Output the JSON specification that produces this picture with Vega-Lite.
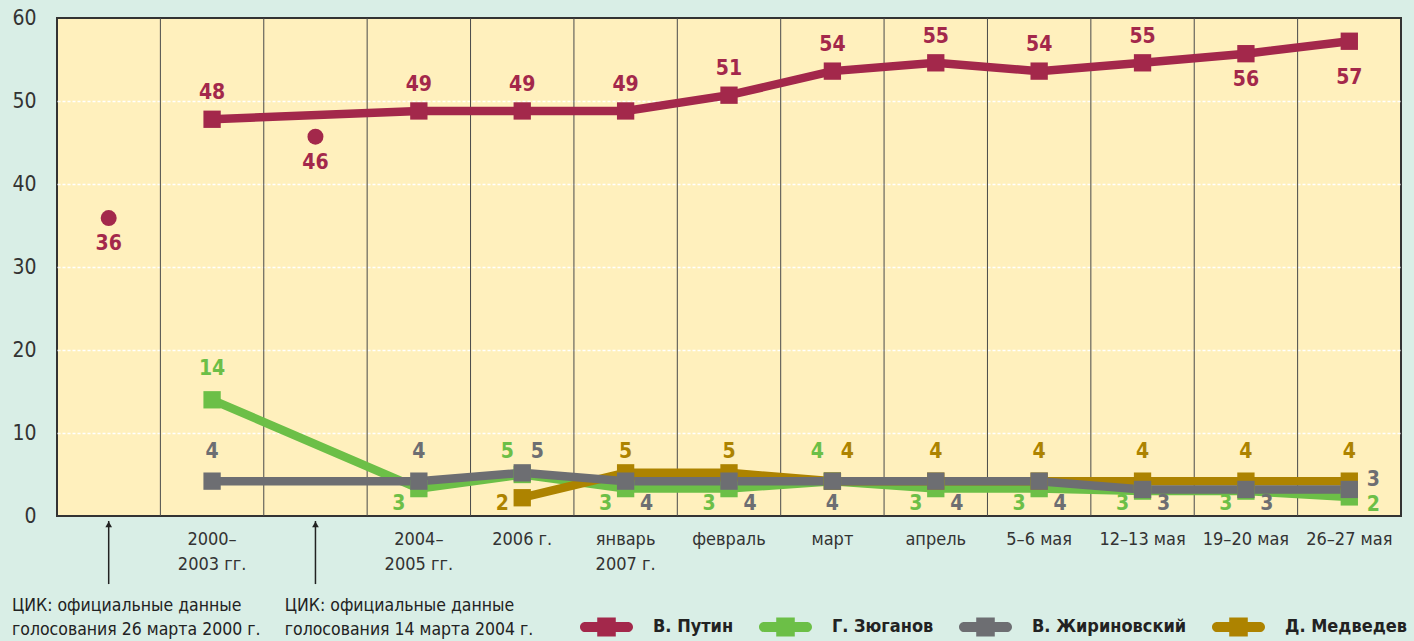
{
  "$schema": "https://vega.github.io/schema/vega-lite/v6.json",
  "width": 1344,
  "height": 498,
  "autosize": {"type": "none"},
  "padding": {"left": 57, "top": 18, "right": 13, "bottom": 125},
  "background": "#d9eee6",
  "config": {
    "view": {"fill": "#fff0bd", "stroke": "#333333", "strokeWidth": 2},
    "font": "Liberation Sans Narrow, DejaVu Sans Condensed, sans-serif",
    "axisX": {"domain": false, "ticks": false, "grid": false, "labelAngle": 0, "labelFontSize": 18, "labelPadding": 14, "labelLineHeight": 25, "labelColor": "#333333", "labelOverlap": false, "title": null},
    "axisY": {"domain": false, "ticks": false, "labelFontSize": 21, "labelColor": "#333333", "labelPadding": 21, "gridColor": "#ffffff", "gridDash": [3, 2], "gridWidth": 1.5, "title": null}
  },
  "datasets": {
    "lines": [
      {"s": "Г. Зюганов", "p": "2000–|2003 гг.", "v": 14.0},
      {"s": "Г. Зюганов", "p": "2004–|2005 гг.", "v": 3.3},
      {"s": "Г. Зюганов", "p": "2006 г.", "v": 5.0},
      {"s": "Г. Зюганов", "p": "январь|2007 г.", "v": 3.3},
      {"s": "Г. Зюганов", "p": "февраль", "v": 3.3},
      {"s": "Г. Зюганов", "p": "март", "v": 4.2},
      {"s": "Г. Зюганов", "p": "апрель", "v": 3.3},
      {"s": "Г. Зюганов", "p": "5–6 мая", "v": 3.3},
      {"s": "Г. Зюганов", "p": "12–13 мая", "v": 3.0},
      {"s": "Г. Зюганов", "p": "19–20 мая", "v": 3.0},
      {"s": "Г. Зюганов", "p": "26–27 мая", "v": 2.3},
      {"s": "Д. Медведев", "p": "2006 г.", "v": 2.2},
      {"s": "Д. Медведев", "p": "январь|2007 г.", "v": 5.2},
      {"s": "Д. Медведев", "p": "февраль", "v": 5.2},
      {"s": "Д. Медведев", "p": "март", "v": 4.2},
      {"s": "Д. Медведев", "p": "апрель", "v": 4.2},
      {"s": "Д. Медведев", "p": "5–6 мая", "v": 4.2},
      {"s": "Д. Медведев", "p": "12–13 мая", "v": 4.2},
      {"s": "Д. Медведев", "p": "19–20 мая", "v": 4.2},
      {"s": "Д. Медведев", "p": "26–27 мая", "v": 4.2},
      {"s": "В. Жириновский", "p": "2000–|2003 гг.", "v": 4.2},
      {"s": "В. Жириновский", "p": "2004–|2005 гг.", "v": 4.2},
      {"s": "В. Жириновский", "p": "2006 г.", "v": 5.2},
      {"s": "В. Жириновский", "p": "январь|2007 г.", "v": 4.2},
      {"s": "В. Жириновский", "p": "февраль", "v": 4.2},
      {"s": "В. Жириновский", "p": "март", "v": 4.2},
      {"s": "В. Жириновский", "p": "апрель", "v": 4.2},
      {"s": "В. Жириновский", "p": "5–6 мая", "v": 4.2},
      {"s": "В. Жириновский", "p": "12–13 мая", "v": 3.2},
      {"s": "В. Жириновский", "p": "19–20 мая", "v": 3.2},
      {"s": "В. Жириновский", "p": "26–27 мая", "v": 3.2},
      {"s": "В. Путин", "p": "2000–|2003 гг.", "v": 47.8},
      {"s": "В. Путин", "p": "2004–|2005 гг.", "v": 48.8},
      {"s": "В. Путин", "p": "2006 г.", "v": 48.8},
      {"s": "В. Путин", "p": "январь|2007 г.", "v": 48.8},
      {"s": "В. Путин", "p": "февраль", "v": 50.7},
      {"s": "В. Путин", "p": "март", "v": 53.6},
      {"s": "В. Путин", "p": "апрель", "v": 54.6},
      {"s": "В. Путин", "p": "5–6 мая", "v": 53.6},
      {"s": "В. Путин", "p": "12–13 мая", "v": 54.6},
      {"s": "В. Путин", "p": "19–20 мая", "v": 55.7},
      {"s": "В. Путин", "p": "26–27 мая", "v": 57.2}
    ],
    "dots": [
      {"s": "В. Путин", "p": "ЦИК 2000", "v": 35.9},
      {"s": "В. Путин", "p": "ЦИК 2004", "v": 45.7}
    ],
    "labels": [
      {"s": "В. Путин", "p": "ЦИК 2000", "v": 35.9, "t": "36", "pos": "B"},
      {"s": "В. Путин", "p": "2000–|2003 гг.", "v": 47.8, "t": "48", "pos": "A"},
      {"s": "В. Путин", "p": "ЦИК 2004", "v": 45.7, "t": "46", "pos": "B"},
      {"s": "В. Путин", "p": "2004–|2005 гг.", "v": 48.8, "t": "49", "pos": "A"},
      {"s": "В. Путин", "p": "2006 г.", "v": 48.8, "t": "49", "pos": "A"},
      {"s": "В. Путин", "p": "январь|2007 г.", "v": 48.8, "t": "49", "pos": "A"},
      {"s": "В. Путин", "p": "февраль", "v": 50.7, "t": "51", "pos": "A"},
      {"s": "В. Путин", "p": "март", "v": 53.6, "t": "54", "pos": "A"},
      {"s": "В. Путин", "p": "апрель", "v": 54.6, "t": "55", "pos": "A"},
      {"s": "В. Путин", "p": "5–6 мая", "v": 53.6, "t": "54", "pos": "A"},
      {"s": "В. Путин", "p": "12–13 мая", "v": 54.6, "t": "55", "pos": "A"},
      {"s": "В. Путин", "p": "19–20 мая", "v": 55.7, "t": "56", "pos": "B"},
      {"s": "В. Путин", "p": "26–27 мая", "v": 57.2, "t": "57", "pos": "B2"},
      {"s": "Г. Зюганов", "p": "2000–|2003 гг.", "v": 14.0, "t": "14", "pos": "A2"},
      {"s": "В. Жириновский", "p": "2000–|2003 гг.", "v": 4.2, "t": "4", "pos": "TC"},
      {"s": "В. Жириновский", "p": "2004–|2005 гг.", "v": 4.2, "t": "4", "pos": "TC"},
      {"s": "Г. Зюганов", "p": "2004–|2005 гг.", "v": 3.3, "t": "3", "pos": "BL"},
      {"s": "Г. Зюганов", "p": "2006 г.", "v": 5.0, "t": "5", "pos": "TL"},
      {"s": "В. Жириновский", "p": "2006 г.", "v": 5.2, "t": "5", "pos": "TR"},
      {"s": "Д. Медведев", "p": "2006 г.", "v": 2.2, "t": "2", "pos": "BL"},
      {"s": "Д. Медведев", "p": "январь|2007 г.", "v": 5.2, "t": "5", "pos": "TC"},
      {"s": "Г. Зюганов", "p": "январь|2007 г.", "v": 3.3, "t": "3", "pos": "BL"},
      {"s": "В. Жириновский", "p": "январь|2007 г.", "v": 4.2, "t": "4", "pos": "BR"},
      {"s": "Д. Медведев", "p": "февраль", "v": 5.2, "t": "5", "pos": "TC"},
      {"s": "Г. Зюганов", "p": "февраль", "v": 3.3, "t": "3", "pos": "BL"},
      {"s": "В. Жириновский", "p": "февраль", "v": 4.2, "t": "4", "pos": "BR"},
      {"s": "Г. Зюганов", "p": "март", "v": 4.2, "t": "4", "pos": "TL"},
      {"s": "Д. Медведев", "p": "март", "v": 4.2, "t": "4", "pos": "TR"},
      {"s": "В. Жириновский", "p": "март", "v": 4.2, "t": "4", "pos": "BC"},
      {"s": "Д. Медведев", "p": "апрель", "v": 4.2, "t": "4", "pos": "TC"},
      {"s": "Г. Зюганов", "p": "апрель", "v": 3.3, "t": "3", "pos": "BL"},
      {"s": "В. Жириновский", "p": "апрель", "v": 4.2, "t": "4", "pos": "BR"},
      {"s": "Д. Медведев", "p": "5–6 мая", "v": 4.2, "t": "4", "pos": "TC"},
      {"s": "Г. Зюганов", "p": "5–6 мая", "v": 3.3, "t": "3", "pos": "BL"},
      {"s": "В. Жириновский", "p": "5–6 мая", "v": 4.2, "t": "4", "pos": "BR"},
      {"s": "Д. Медведев", "p": "12–13 мая", "v": 4.2, "t": "4", "pos": "TC"},
      {"s": "Г. Зюганов", "p": "12–13 мая", "v": 3.0, "t": "3", "pos": "BL"},
      {"s": "В. Жириновский", "p": "12–13 мая", "v": 3.2, "t": "3", "pos": "BR"},
      {"s": "Д. Медведев", "p": "19–20 мая", "v": 4.2, "t": "4", "pos": "TC"},
      {"s": "Г. Зюганов", "p": "19–20 мая", "v": 3.0, "t": "3", "pos": "BL"},
      {"s": "В. Жириновский", "p": "19–20 мая", "v": 3.2, "t": "3", "pos": "BR"},
      {"s": "Д. Медведев", "p": "26–27 мая", "v": 4.2, "t": "4", "pos": "TC"},
      {"s": "В. Жириновский", "p": "26–27 мая", "v": 3.2, "t": "3", "pos": "RU"},
      {"s": "Г. Зюганов", "p": "26–27 мая", "v": 2.3, "t": "2", "pos": "RL"}
    ]
  },
  "layer": [
    {
      "data": {"values": [{"p": "2000–|2003 гг."}, {"p": "ЦИК 2004"}, {"p": "2004–|2005 гг."}, {"p": "2006 г."}, {"p": "январь|2007 г."}, {"p": "февраль"}, {"p": "март"}, {"p": "апрель"}, {"p": "5–6 мая"}, {"p": "12–13 мая"}, {"p": "19–20 мая"}, {"p": "26–27 мая"}]},
      "mark": {"type": "rule", "color": "#4a4a4a", "strokeWidth": 1},
      "encoding": {
        "x": {"field": "p", "type": "nominal", "bandPosition": 0, "scale": {"type": "band"}}
      }
    },
    {
      "data": {"name": "lines"},
      "mark": {"type": "line", "strokeWidth": 8.5},
      "encoding": {
        "x": {"field": "p", "type": "nominal", "sort": null,
          "scale": {"type": "band", "paddingInner": 0, "paddingOuter": 0,
            "domain": ["ЦИК 2000", "2000–|2003 гг.", "ЦИК 2004", "2004–|2005 гг.", "2006 г.", "январь|2007 г.", "февраль", "март", "апрель", "5–6 мая", "12–13 мая", "19–20 мая", "26–27 мая"]},
          "axis": {"labelExpr": "indexof(datum.value, 'ЦИК') >= 0 ? '' : split(datum.value, '|')"}},
        "y": {"field": "v", "type": "quantitative",
          "scale": {"domain": [0, 60], "nice": false},
          "axis": {"values": [0, 10, 20, 30, 40, 50, 60], "grid": true,
            "gridOpacity": {"condition": {"test": "datum.value == 0 || datum.value == 60", "value": 0}, "value": 1}}},
        "color": {"field": "s", "type": "nominal",
          "scale": {"domain": ["В. Путин", "Г. Зюганов", "В. Жириновский", "Д. Медведев"], "range": ["#a3284b", "#6cbf47", "#6d6e72", "#ad8300"]},
          "legend": {"title": null, "orient": "none", "legendX": 523, "legendY": 582, "direction": "horizontal",
            "symbolType": "M-0.81,-0.19H0.81A0.19,0.19 0 0 1 0.81,0.19H-0.81A0.19,0.19 0 0 1 -0.81,-0.19Z M-0.35,-0.36H0.35V0.36H-0.35Z", "symbolSize": 2809,
            "symbolStrokeWidth": 0, "symbolOpacity": 1,
            "labelFontSize": 18, "labelFontWeight": "bold", "labelColor": "#222222", "labelOffset": 20,
            "columnPadding": 25, "labelLimit": 400,
            "encode": {"symbols": {"update": {"fill": {"scale": "color", "field": "value"}, "fillOpacity": {"value": 1}, "strokeWidth": {"value": 0}}}}}
        }
      }
    },
    {
      "data": {"name": "lines"},
      "mark": {"type": "point", "shape": "square", "filled": true, "size": 300, "opacity": 1},
      "encoding": {
        "x": {"field": "p", "type": "nominal", "scale": {"type": "band"}},
        "y": {"field": "v", "type": "quantitative"},
        "color": {"field": "s", "type": "nominal"}
      }
    },
    {
      "data": {"name": "dots"},
      "mark": {"type": "point", "shape": "circle", "filled": true, "size": 255, "opacity": 1},
      "encoding": {
        "x": {"field": "p", "type": "nominal", "scale": {"type": "band"}},
        "y": {"field": "v", "type": "quantitative"},
        "color": {"field": "s", "type": "nominal"}
      }
    },
    {
      "data": {"name": "labels"},
      "transform": [{"filter": "datum.pos == 'A'"}],
      "mark": {"type": "text", "fontSize": 21, "fontWeight": "bold", "baseline": "middle", "dy": -26},
      "encoding": {
        "x": {"field": "p", "type": "nominal", "scale": {"type": "band"}},
        "y": {"field": "v", "type": "quantitative"},
        "text": {"field": "t"},
        "color": {"field": "s", "type": "nominal"}
      }
    },
    {
      "data": {"name": "labels"},
      "transform": [{"filter": "datum.pos == 'A2'"}],
      "mark": {"type": "text", "fontSize": 21, "fontWeight": "bold", "baseline": "middle", "dy": -31},
      "encoding": {
        "x": {"field": "p", "type": "nominal", "scale": {"type": "band"}},
        "y": {"field": "v", "type": "quantitative"},
        "text": {"field": "t"},
        "color": {"field": "s", "type": "nominal"}
      }
    },
    {
      "data": {"name": "labels"},
      "transform": [{"filter": "datum.pos == 'B'"}],
      "mark": {"type": "text", "fontSize": 21, "fontWeight": "bold", "baseline": "middle", "dy": 26},
      "encoding": {
        "x": {"field": "p", "type": "nominal", "scale": {"type": "band"}},
        "y": {"field": "v", "type": "quantitative"},
        "text": {"field": "t"},
        "color": {"field": "s", "type": "nominal"}
      }
    },
    {
      "data": {"name": "labels"},
      "transform": [{"filter": "datum.pos == 'B2'"}],
      "mark": {"type": "text", "fontSize": 21, "fontWeight": "bold", "baseline": "middle", "dy": 37},
      "encoding": {
        "x": {"field": "p", "type": "nominal", "scale": {"type": "band"}},
        "y": {"field": "v", "type": "quantitative"},
        "text": {"field": "t"},
        "color": {"field": "s", "type": "nominal"}
      }
    },
    {
      "data": {"name": "labels"},
      "transform": [{"filter": "datum.pos == 'TC'"}],
      "mark": {"type": "text", "fontSize": 21, "fontWeight": "bold", "baseline": "middle"},
      "encoding": {
        "x": {"field": "p", "type": "nominal", "scale": {"type": "band"}},
        "y": {"datum": 7.7, "type": "quantitative"},
        "text": {"field": "t"},
        "color": {"field": "s", "type": "nominal"}
      }
    },
    {
      "data": {"name": "labels"},
      "transform": [{"filter": "datum.pos == 'TL'"}],
      "mark": {"type": "text", "fontSize": 21, "fontWeight": "bold", "baseline": "middle", "dx": -15},
      "encoding": {
        "x": {"field": "p", "type": "nominal", "scale": {"type": "band"}},
        "y": {"datum": 7.7, "type": "quantitative"},
        "text": {"field": "t"},
        "color": {"field": "s", "type": "nominal"}
      }
    },
    {
      "data": {"name": "labels"},
      "transform": [{"filter": "datum.pos == 'TR'"}],
      "mark": {"type": "text", "fontSize": 21, "fontWeight": "bold", "baseline": "middle", "dx": 15},
      "encoding": {
        "x": {"field": "p", "type": "nominal", "scale": {"type": "band"}},
        "y": {"datum": 7.7, "type": "quantitative"},
        "text": {"field": "t"},
        "color": {"field": "s", "type": "nominal"}
      }
    },
    {
      "data": {"name": "labels"},
      "transform": [{"filter": "datum.pos == 'BC'"}],
      "mark": {"type": "text", "fontSize": 21, "fontWeight": "bold", "baseline": "middle"},
      "encoding": {
        "x": {"field": "p", "type": "nominal", "scale": {"type": "band"}},
        "y": {"datum": 1.5, "type": "quantitative"},
        "text": {"field": "t"},
        "color": {"field": "s", "type": "nominal"}
      }
    },
    {
      "data": {"name": "labels"},
      "transform": [{"filter": "datum.pos == 'BL'"}],
      "mark": {"type": "text", "fontSize": 21, "fontWeight": "bold", "baseline": "middle", "dx": -20},
      "encoding": {
        "x": {"field": "p", "type": "nominal", "scale": {"type": "band"}},
        "y": {"datum": 1.5, "type": "quantitative"},
        "text": {"field": "t"},
        "color": {"field": "s", "type": "nominal"}
      }
    },
    {
      "data": {"name": "labels"},
      "transform": [{"filter": "datum.pos == 'BR'"}],
      "mark": {"type": "text", "fontSize": 21, "fontWeight": "bold", "baseline": "middle", "dx": 21},
      "encoding": {
        "x": {"field": "p", "type": "nominal", "scale": {"type": "band"}},
        "y": {"datum": 1.5, "type": "quantitative"},
        "text": {"field": "t"},
        "color": {"field": "s", "type": "nominal"}
      }
    },
    {
      "data": {"name": "labels"},
      "transform": [{"filter": "datum.pos == 'RU'"}],
      "mark": {"type": "text", "fontSize": 21, "fontWeight": "bold", "baseline": "middle", "dx": 24},
      "encoding": {
        "x": {"field": "p", "type": "nominal", "scale": {"type": "band"}},
        "y": {"datum": 4.3, "type": "quantitative"},
        "text": {"field": "t"},
        "color": {"field": "s", "type": "nominal"}
      }
    },
    {
      "data": {"name": "labels"},
      "transform": [{"filter": "datum.pos == 'RL'"}],
      "mark": {"type": "text", "fontSize": 21, "fontWeight": "bold", "baseline": "middle", "dx": 24},
      "encoding": {
        "x": {"field": "p", "type": "nominal", "scale": {"type": "band"}},
        "y": {"datum": 1.3, "type": "quantitative"},
        "text": {"field": "t"},
        "color": {"field": "s", "type": "nominal"}
      }
    },
    {
      "data": {"values": [{"p": "ЦИК 2000"}, {"p": "ЦИК 2004"}]},
      "mark": {"type": "rule", "color": "#222222", "strokeWidth": 1.5},
      "encoding": {
        "x": {"field": "p", "type": "nominal", "scale": {"type": "band"}},
        "y": {"datum": -8.2, "type": "quantitative"},
        "y2": {"datum": -0.6}
      }
    },
    {
      "data": {"values": [{"p": "ЦИК 2000"}, {"p": "ЦИК 2004"}]},
      "mark": {"type": "point", "shape": "triangle-up", "filled": true, "size": 45, "color": "#222222", "opacity": 1},
      "encoding": {
        "x": {"field": "p", "type": "nominal", "scale": {"type": "band"}},
        "y": {"datum": -1.0, "type": "quantitative"}
      }
    },
    {
      "data": {"values": [{"p": "ЦИК 2000", "t": "ЦИК: официальные данные\nголосования 26 марта 2000 г."}]},
      "mark": {"type": "text", "fontSize": 17.5, "color": "#222222", "align": "left", "baseline": "alphabetic", "lineBreak": "\n", "lineHeight": 24, "dx": -45},
      "encoding": {
        "x": {"field": "p", "type": "nominal", "bandPosition": 0, "scale": {"type": "band"}},
        "y": {"datum": -11.4, "type": "quantitative"},
        "text": {"field": "t"}
      }
    },
    {
      "data": {"values": [{"p": "ЦИК 2004", "t": "ЦИК: официальные данные\nголосования 14 марта 2004 г."}]},
      "mark": {"type": "text", "fontSize": 17.5, "color": "#222222", "align": "left", "baseline": "alphabetic", "lineBreak": "\n", "lineHeight": 24, "dx": 21},
      "encoding": {
        "x": {"field": "p", "type": "nominal", "bandPosition": 0, "scale": {"type": "band"}},
        "y": {"datum": -11.4, "type": "quantitative"},
        "text": {"field": "t"}
      }
    }
  ]
}
